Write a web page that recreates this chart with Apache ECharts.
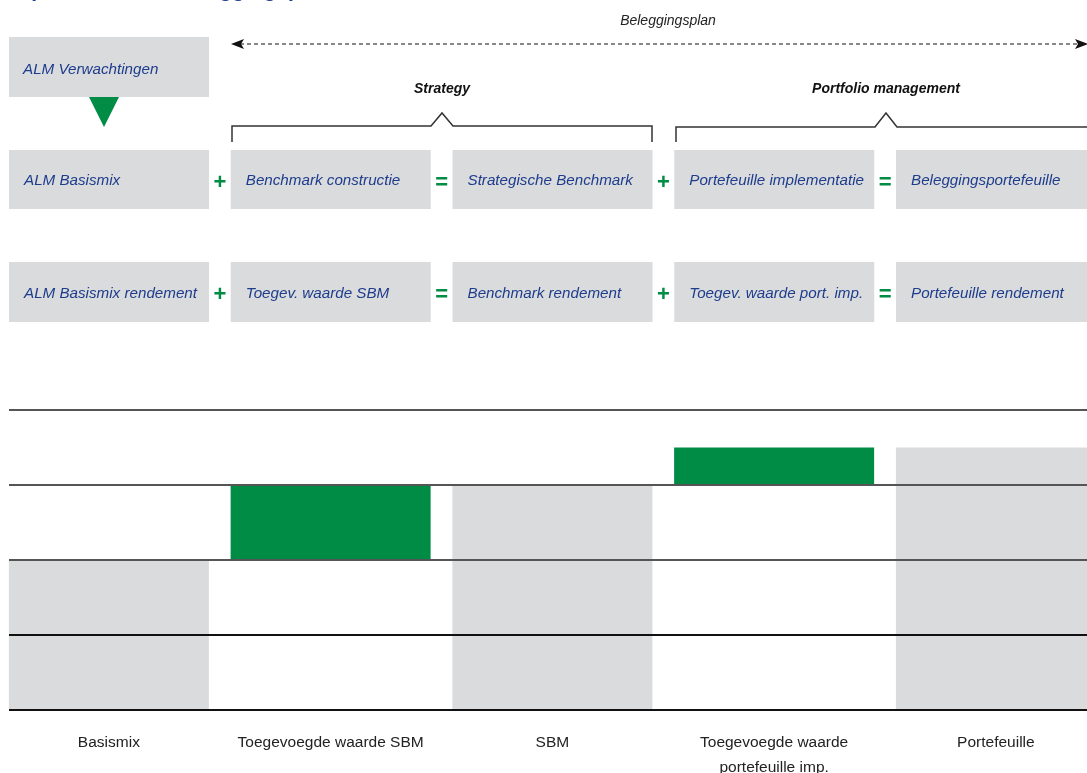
<!DOCTYPE html>
<html>
<head>
<meta charset="utf-8">
<script src="https://cdn.jsdelivr.net/npm/echarts@6/dist/echarts.min.js"></script>
<style>
  html, body { margin: 0; padding: 0; background: #fff; }
  #chart { width: 1087px; height: 773px; }
</style>
</head>
<body>
<div id="chart"></div>
<script>
// waterfall data (units: gridline steps)
const categories = ['Basismix', 'Toegevoegde waarde SBM', 'SBM', 'Toegevoegde waarde\nportefeuille imp.', 'Portefeuille'];
const baseValues = [0, 2, 0, 3, 0];
const barValues = [2, 1, 3, 0.5, 3.5];
const barKinds = ['total', 'add', 'total', 'add', 'total'];
const yTicks = [0, 1, 2, 3, 4];

// diagram texts
const planLabels = ['ALM Basismix', 'Benchmark constructie', 'Strategische Benchmark', 'Portefeuille implementatie', 'Beleggingsportefeuille'];
const returnLabels = ['ALM Basismix rendement', 'Toegev. waarde SBM', 'Benchmark rendement', 'Toegev. waarde port. imp.', 'Portefeuille rendement'];
const operators = ['+', '=', '+', '='];

const GRAY = '#dadbdd';
const GREEN = '#008c45';
const BLUE = '#1d3c8c';
const FONT = "'Liberation Sans', Arial, sans-serif";

const chart = echarts.init(document.getElementById('chart'));

const step = 221.75;   // width of one column
const boxW = 200;
const colX = i => 9 + i * step;

const graphics = [];

// cut-off title at the very top
graphics.push({
  type: 'text', left: 15, top: -19,
  style: { text: 'Opbouw van de beleggingsportefeuille', fill: BLUE, font: 'bold 21px ' + FONT }
});

// Beleggingsplan arrow
graphics.push({
  type: 'text', x: 668, y: 21,
  style: { text: 'Beleggingsplan', fill: '#222', font: 'italic 14px ' + FONT, textAlign: 'center', textVerticalAlign: 'middle' }
});
graphics.push({
  type: 'line', shape: { x1: 240, y1: 44, x2: 1078, y2: 44 },
  style: { stroke: '#111', lineWidth: 1, lineDash: [4, 3] }
});
graphics.push({ type: 'polygon', shape: { points: [[231, 44], [244, 39], [241, 44], [244, 49]] }, style: { fill: '#111' } });
graphics.push({ type: 'polygon', shape: { points: [[1088, 44], [1075, 39], [1078, 44], [1075, 49]] }, style: { fill: '#111' } });

// ALM Verwachtingen box + triangle
graphics.push({ type: 'rect', shape: { x: 9, y: 37, width: 200, height: 60 }, style: { fill: GRAY } });
graphics.push({
  type: 'text', x: 23, y: 70,
  style: { text: 'ALM Verwachtingen', fill: BLUE, font: 'italic 15.2px ' + FONT, textVerticalAlign: 'middle' }
});
graphics.push({ type: 'polygon', shape: { points: [[89, 97], [119, 97], [104, 127]] }, style: { fill: GREEN } });

// group headings + brackets
graphics.push({
  type: 'text', x: 442, y: 89,
  style: { text: 'Strategy', fill: '#111', font: 'italic bold 14px ' + FONT, textAlign: 'center', textVerticalAlign: 'middle' }
});
graphics.push({
  type: 'text', x: 886, y: 89,
  style: { text: 'Portfolio management', fill: '#111', font: 'italic bold 14px ' + FONT, textAlign: 'center', textVerticalAlign: 'middle' }
});
graphics.push({
  type: 'polyline',
  shape: { points: [[232, 142], [232, 126], [431, 126], [442, 113], [453, 126], [652, 126], [652, 142]] },
  style: { stroke: '#333', lineWidth: 1.5, fill: null }
});
graphics.push({
  type: 'polyline',
  shape: { points: [[676, 142], [676, 127], [875, 127], [886, 113], [897, 127], [1092, 127]] },
  style: { stroke: '#333', lineWidth: 1.5, fill: null }
});

// two rows of boxes with operators
[[planLabels, 150, 59], [returnLabels, 262, 60]].forEach(([labels, top, h]) => {
  labels.forEach((lab, i) => {
    graphics.push({ type: 'rect', shape: { x: colX(i), y: top, width: boxW, height: h }, style: { fill: GRAY } });
    graphics.push({
      type: 'text', x: colX(i) + 15, y: top + h / 2 + 1.5,
      style: { text: lab, fill: BLUE, font: 'italic 15.2px ' + FONT, textVerticalAlign: 'middle' }
    });
  });
  operators.forEach((op, i) => {
    graphics.push({
      type: 'text', x: colX(i) + boxW + 11, y: top + h / 2 + 3,
      style: { text: op, fill: GREEN, font: 'bold 22px ' + FONT, textAlign: 'center', textVerticalAlign: 'middle' }
    });
  });
});

chart.setOption({
  animation: false,
  backgroundColor: '#fff',
  graphic: graphics,
  grid: [
    { left: -2, width: 5 * step, top: 410, height: 300, outerBoundsMode: 'none', containLabel: false },
    { left: 9, right: 0, top: 410, height: 300, outerBoundsMode: 'none', containLabel: false }
  ],
  xAxis: [
    {
      type: 'category', gridIndex: 0, data: categories,
      axisLine: { show: false }, axisTick: { show: false },
      axisLabel: { margin: 20, color: '#222', fontSize: 15.5, lineHeight: 25, fontFamily: FONT, interval: 0 }
    },
    { type: 'value', gridIndex: 1, min: 0, max: 1, show: false }
  ],
  yAxis: [
    { type: 'value', gridIndex: 0, min: 0, max: 4, interval: 1, show: false },
    {
      type: 'value', gridIndex: 1, min: yTicks[0], max: yTicks[yTicks.length - 1], interval: 1, z: 10,
      axisLine: { show: false }, axisTick: { show: false }, axisLabel: { show: false },
      splitLine: { lineStyle: { color: ['#111', '#111', '#555', '#555', '#555'], width: 2 } }
    }
  ],
  series: [
    {
      type: 'bar', stack: 'w', xAxisIndex: 0, yAxisIndex: 0, barWidth: boxW,
      itemStyle: { color: 'transparent' }, data: baseValues, silent: true
    },
    {
      type: 'bar', stack: 'w', xAxisIndex: 0, yAxisIndex: 0, barWidth: boxW,
      data: barValues.map((v, i) => ({
        value: v,
        itemStyle: { color: barKinds[i] === 'add' ? GREEN : GRAY }
      }))
    },
    { type: 'line', xAxisIndex: 1, yAxisIndex: 1, data: [], silent: true }
  ]
});
</script>
</body>
</html>
